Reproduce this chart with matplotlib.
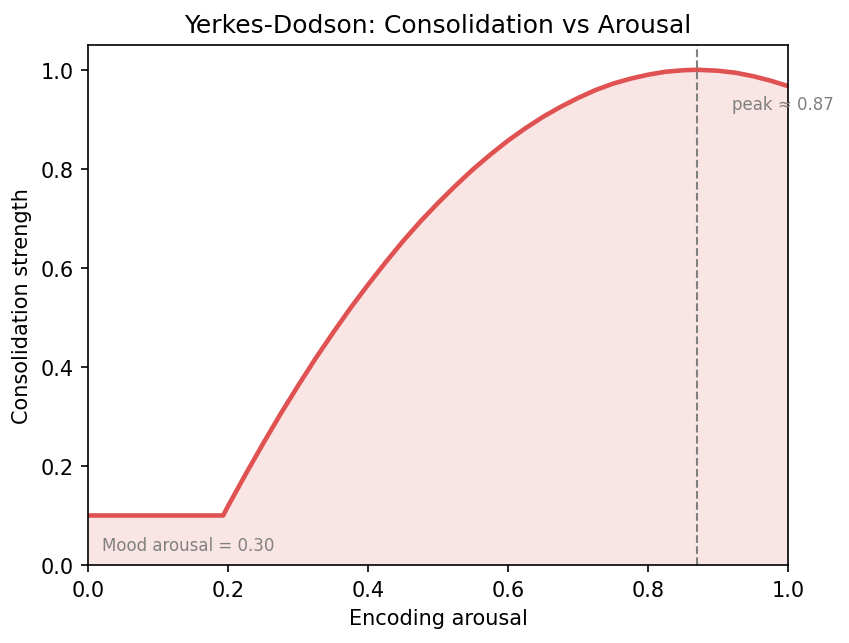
import matplotlib
matplotlib.use("Agg")
import matplotlib.pyplot as plt

# encoding arousal vs consolidation strength
arousal = [0.0, 0.1, 0.193, 0.2, 0.225, 0.25, 0.275, 0.3, 0.325, 0.35, 0.375,
           0.4, 0.425, 0.45, 0.475, 0.5, 0.525, 0.55, 0.575, 0.6, 0.625,
           0.65, 0.675, 0.7, 0.725, 0.75, 0.775, 0.8, 0.825, 0.85, 0.87,
           0.9, 0.925, 0.95, 0.975, 1.0]
strength = [0.1, 0.1, 0.1, 0.119, 0.183, 0.245, 0.305, 0.362, 0.417, 0.469, 0.519,
            0.566, 0.611, 0.654, 0.694, 0.731, 0.766, 0.799, 0.829, 0.857, 0.882,
            0.905, 0.925, 0.943, 0.959, 0.972, 0.982, 0.990, 0.996, 0.999, 1.0,
            0.998, 0.994, 0.987, 0.978, 0.967]
peak = 0.87
mood = 0.30

red = "#e05252"

fig = plt.figure(figsize=(5.66, 4.2933), dpi=150)
ax = fig.add_axes([0.1037, 0.1211, 0.8245, 0.8075])

ax.fill_between(arousal, strength, 0, color=red, alpha=0.15, linewidth=0)
ax.plot(arousal, strength, color=red, linewidth=2.2, solid_joinstyle="round")
ax.axvline(peak, color="gray", linestyle="--", linewidth=1)

ax.text(peak + 0.05, 0.95, f"peak \u2248 {peak:.2f}", color="gray", fontsize=8, va="top")
ax.text(0.02, 0.03, f"Mood arousal = {mood:.2f}", color="gray", fontsize=8)

ax.set_xlim(0, 1)
ax.set_ylim(0, 1.05)
ax.set_xlabel("Encoding arousal")
ax.set_ylabel("Consolidation strength")
ax.set_title("Yerkes-Dodson: Consolidation vs Arousal")

fig.savefig("out.png", dpi=150)
